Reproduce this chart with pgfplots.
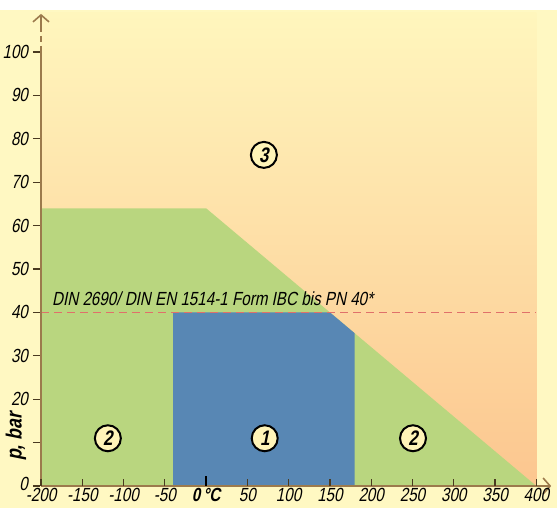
\documentclass[border=0pt]{standalone}
\usepackage{fontspec}
\setmainfont{Liberation Sans}[FakeStretch=0.8, FakeSlant=0.2]
\usepackage{pgfplots}
\pgfplotsset{compat=1.18}
\usetikzlibrary{arrows.meta}

\definecolor{bgyellow}{HTML}{FFF8C2}
\definecolor{gradtop}{HTML}{FFF6BD}
\definecolor{gradmid}{HTML}{FEE2A3}
\definecolor{gradbot}{HTML}{FCC68F}
\definecolor{zonegreen}{HTML}{B9D67F}
\definecolor{zoneblue}{HTML}{5887B4}
\definecolor{dashred}{HTML}{E0706A}
\definecolor{axiscol}{HTML}{9C7A4C}
\definecolor{tickcol}{HTML}{4A3A20}
\definecolor{circfill}{HTML}{FFF4B8}

\begin{document}
\begin{tikzpicture}
% page background (1 px = 0.5 pt)
\fill[white] (-20.5pt,-11pt) rectangle (258pt,243pt);
\fill[bgyellow] (-20.5pt,-11pt) rectangle (258pt,238pt);
\path[use as bounding box] (-20.5pt,-11pt) rectangle (258pt,243pt);

\begin{axis}[
  scale only axis,
  width=255.5pt, height=236.5pt,
  xmin=-200, xmax=419, ymin=0, ymax=109,
  axis lines=left,
  axis line style={draw=none},
  axis on top,
  clip=false,
  tick align=inside,
  major tick length=3.5pt,
  tick style={tickcol, line width=0.6pt},
  ytick style={xshift=-4pt},
  xtick={-200,-150,-100,-50,50,100,150,200,250,300,350,400},
  xticklabels={-200,-150,-100,-50,50,100,150,200,250,300,350,400},
  extra x ticks={0},
  extra x tick labels={\textbf{0\,°C}},
  extra x tick style={tick style={black, line width=1.2pt}, major tick length=5pt},
  ytick={0,10,...,100},
  yticklabels={\raisebox{2pt}{0},,20,30,40,50,60,70,80,90,100},
  /pgf/number format/assume math mode=true,
  tick label style={font=\fontsize{9.5}{11}\selectfont, text=black},
  xticklabel style={yshift=0.5pt, inner ysep=1.5pt},
  yticklabel style={xshift=-3pt},
]
% zone 3 background gradient
\addplot[draw=none, top color=gradtop, middle color=gradmid, bottom color=gradbot]
  coordinates {(-200,109) (400,109)} \closedcycle;
% zone 2
\addplot[draw=none, fill=zonegreen]
  coordinates {(-200,0) (-200,64) (0,64) (400,0)} \closedcycle;
% zone 1
\addplot[draw=none, fill=zoneblue]
  coordinates {(-40,0) (-40,40) (150,40) (180,35.2) (180,0)} \closedcycle;
% PN 40 limit
\addplot[dashred, line width=0.6pt, dash pattern=on 4pt off 2.5pt]
  coordinates {(-200,40) (400,40)};

% axis lines
\draw[axiscol, line width=0.8pt] (axis cs:-200,0) -- (axis cs:-200,100);
\draw[axiscol, line width=0.8pt, dash pattern=on 3pt off 2pt] (axis cs:-200,100) -- (axis cs:-200,106);
\draw[axiscol, line width=0.8pt, -{Straight Barb[length=3.5pt,width=8pt]}] (axis cs:-200,106) -- (axis cs:-200,108.8);
\draw[axiscol, line width=0.8pt, -{Straight Barb[length=3.5pt,width=8pt]}] (axis cs:-200,0) -- (axis cs:418,0);

% labels
\node[anchor=base west, inner sep=0pt, font=\fontsize{9.5}{11}\selectfont]
  at (axis cs:-187,41.7) {DIN 2690/ DIN EN 1514-1 Form IBC bis PN 40*};
\node[rotate=90, inner sep=0pt, font=\bfseries\fontsize{11}{13}\selectfont]
  at ([xshift=-12.5pt]axis cs:-200,11.3) {p, bar};

\tikzset{zone/.style={circle, draw=black, line width=1pt, fill=circfill,
  inner sep=0pt, minimum size=13pt, font=\bfseries\fontsize{10.5}{12}\selectfont}}
\node[zone] at (axis cs:70,76.3) {3};
\node[zone] at (axis cs:71,11) {1};
\node[zone] at (axis cs:-119,11) {2};
\node[zone] at (axis cs:250.6,11) {2};
\end{axis}
\end{tikzpicture}
\end{document}
